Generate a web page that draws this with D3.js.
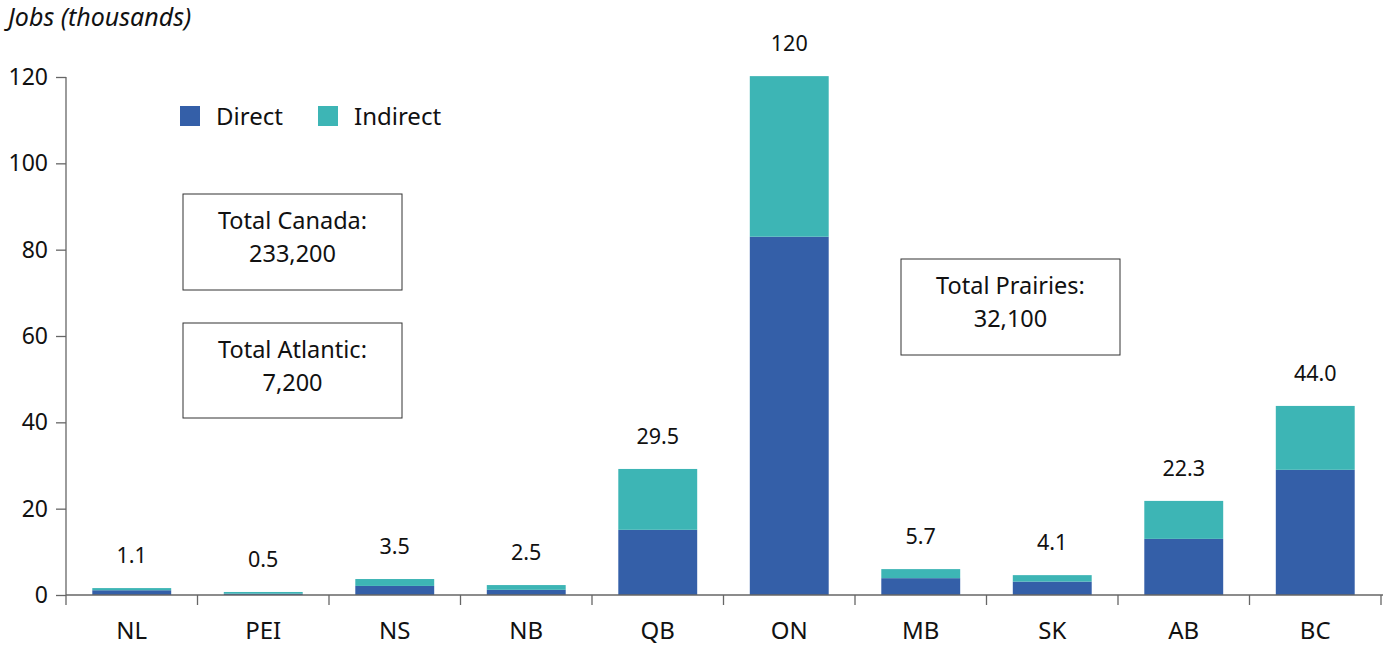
<!DOCTYPE html>
<html lang="en">
<head>
  <meta charset="UTF-8">
  <title>Jobs by province</title>
  <script src="https://d3js.org/d3.v7.min.js"></script>
  <style>
    body { margin: 0; background: white; }
    text { font-family: 'Noto Sans', sans-serif; fill: #111; }
  </style>
</head>
<body>
  <svg width="1385" height="645"></svg>

  <script>
    // Data (thousands of jobs)
    const provinces = ["NL", "PEI", "NS", "NB", "QB", "ON", "MB", "SK", "AB", "BC"];
    const direct    = [1.1, 0.3, 2.1, 1.2, 15.1, 83.0, 3.9, 3.1, 13.0, 29.0];
    const indirect  = [0.5, 0.4, 1.6, 1.1, 14.1, 37.2, 2.1, 1.5, 8.8, 14.8];
    const totalLabels = ["1.1", "0.5", "3.5", "2.5", "29.5", "120", "5.7", "4.1", "22.3", "44.0"];
    const yTicks = [0, 20, 40, 60, 80, 100, 120];
    const seriesNames = ["Direct", "Indirect"];
    const colors = ["#345fa8", "#3db5b5"];

    const svg = d3.select("svg");
    const plotLeft = 66, plotRight = 1381, plotTop = 77, plotBottom = 595;

    const x = d3.scaleBand()
      .domain(provinces)
      .range([plotLeft, plotRight])
      .paddingInner(0.4)
      .paddingOuter(0.2);

    const y = d3.scaleLinear()
      .domain([0, 120])
      .range([plotBottom, plotTop]);

    const rows = provinces.map((p, i) => ({ p, direct: direct[i], indirect: indirect[i], label: totalLabels[i] }));
    const stacked = d3.stack().keys(["direct", "indirect"])(rows);

    // Bars
    svg.append("g").selectAll("g")
      .data(stacked)
      .join("g")
      .attr("fill", (d, i) => colors[i])
      .selectAll("rect")
      .data(d => d)
      .join("rect")
      .attr("x", d => x(d.data.p))
      .attr("width", x.bandwidth())
      .attr("y", d => y(d[1]))
      .attr("height", d => y(d[0]) - y(d[1]));

    // Total labels
    svg.append("g").selectAll("text")
      .data(rows)
      .join("text")
      .attr("x", d => x(d.p) + x.bandwidth() / 2)
      .attr("y", d => y(d.direct + d.indirect) - 25)
      .attr("text-anchor", "middle")
      .style("font-size", "21.5px")
      .text(d => d.label);

    // Y axis
    const yAxis = svg.append("g")
      .attr("transform", "translate(" + plotLeft + ",0)")
      .call(d3.axisLeft(y).tickValues(yTicks).tickSize(10).tickPadding(8));
    yAxis.selectAll("line, path").attr("stroke", "#666").attr("stroke-width", 1.3);
    yAxis.select(".domain").attr("d", "M0," + y(120) + "V" + plotBottom);
    yAxis.selectAll("text").style("font-size", "23px").attr("font-family", null).attr("fill", "#111");

    // X axis with ticks at band boundaries
    const xAxis = svg.append("g");
    xAxis.append("line")
      .attr("x1", plotLeft).attr("x2", plotRight + 2)
      .attr("y1", plotBottom).attr("y2", plotBottom)
      .attr("stroke", "#666").attr("stroke-width", 1.3);
    const step = x.step();
    const bounds = provinces.map(p => x(p) - step * 0.2).concat([plotRight]);
    xAxis.selectAll(".tk")
      .data(bounds)
      .join("line")
      .attr("class", "tk")
      .attr("x1", d => d).attr("x2", d => d)
      .attr("y1", plotBottom).attr("y2", plotBottom + 10)
      .attr("stroke", "#666").attr("stroke-width", 1.3);
    xAxis.selectAll("text")
      .data(provinces)
      .join("text")
      .attr("x", d => x(d) + x.bandwidth() / 2)
      .attr("y", 639)
      .attr("text-anchor", "middle")
      .style("font-size", "24px")
      .text(d => d);

    // Y title
    svg.append("text")
      .attr("x", 8).attr("y", 26)
      .style("font-size", "25px")
      .style("font-style", "italic")
      .text("Jobs (thousands)");

    // Legend
    const legend = svg.append("g");
    const legendX = [180, 318];
    seriesNames.forEach((n, i) => {
      legend.append("rect")
        .attr("x", legendX[i]).attr("y", 106)
        .attr("width", 20).attr("height", 20)
        .attr("fill", colors[i]);
      legend.append("text")
        .attr("x", legendX[i] + 36).attr("y", 125)
        .style("font-size", "24px")
        .text(n);
    });

    // Annotation boxes
    const boxes = [
      { x: 183, y: 194, w: 219, h: 96, lines: ["Total Canada:", "233,200"] },
      { x: 183, y: 323, w: 219, h: 95, lines: ["Total Atlantic:", "7,200"] },
      { x: 901, y: 259, w: 219, h: 96, lines: ["Total Prairies:", "32,100"] }
    ];
    boxes.forEach(b => {
      svg.append("rect")
        .attr("x", b.x).attr("y", b.y)
        .attr("width", b.w).attr("height", b.h)
        .attr("fill", "none").attr("stroke", "#333").attr("stroke-width", 1);
      b.lines.forEach((t, j) => {
        svg.append("text")
          .attr("x", b.x + b.w / 2)
          .attr("y", b.y + 35 + j * 33)
          .attr("text-anchor", "middle")
          .style("font-size", "23.5px")
          .text(t);
      });
    });
  </script>
</body>
</html>
